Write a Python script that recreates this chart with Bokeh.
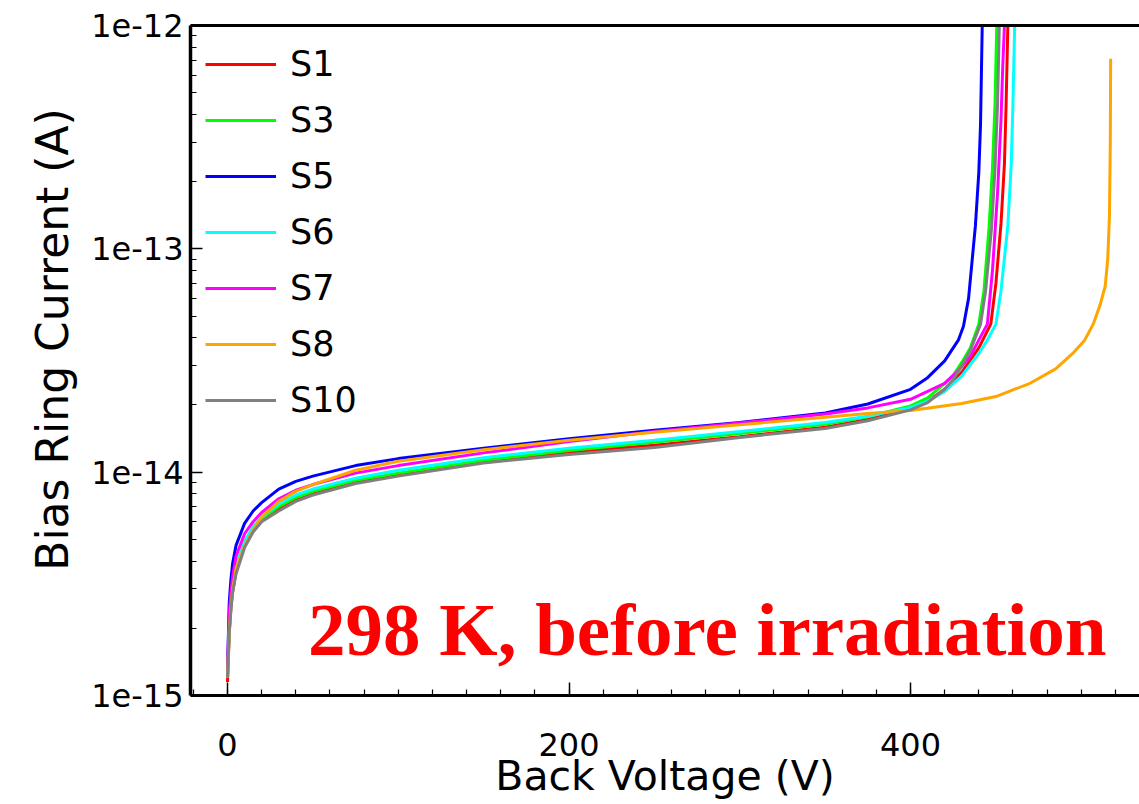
from bokeh.plotting import figure
from bokeh.models import (Range1d, LinearAxis, SingleIntervalTicker, LogTicker, FixedTicker,
                          CustomJSTickFormatter, Label, Legend, LegendItem)
from bokeh.embed import file_html
from bokeh.resources import INLINE

# ---------------- data ----------------
series_names = ["S1", "S3", "S5", "S6", "S7", "S8", "S10"]
series_colors = ["#ff0000", "#00ff00", "#0000ff", "#00ffff", "#ff00ff", "#ffa500", "#808080"]

V_S1 = [0, 1, 2, 3, 5, 10, 15, 20, 30, 40, 50, 75, 100, 150, 200, 250, 300, 350, 375, 400,
        410, 420, 430, 440, 447, 450, 453, 455, 456, 457]
I_S1 = [1.15e-15, 1.9e-15, 2.5e-15, 2.9e-15, 3.6e-15, 4.7e-15, 5.5e-15, 6.1e-15, 6.9e-15, 7.5e-15,
        8.0e-15, 9.0e-15, 9.8e-15, 1.12e-14, 1.23e-14, 1.32e-14, 1.44e-14, 1.59e-14, 1.72e-14, 1.92e-14,
        2.08e-14, 2.35e-14, 2.8e-14, 3.6e-14, 4.6e-14, 7e-14, 1.3e-13, 2.4e-13, 4.5e-13, 1e-12]

V_S3 = [0, 1, 2, 3, 5, 10, 15, 20, 30, 40, 50, 75, 100, 150, 200, 250, 300, 350, 375, 400,
        410, 420, 425, 430, 435, 440, 443, 446, 448, 449.5, 450.5]
I_S3 = [1.2e-15, 2.0e-15, 2.6e-15, 3.0e-15, 3.7e-15, 4.8e-15, 5.6e-15, 6.2e-15, 7.0e-15, 7.7e-15,
        8.2e-15, 9.2e-15, 9.9e-15, 1.13e-14, 1.25e-14, 1.36e-14, 1.49e-14, 1.64e-14, 1.77e-14, 1.98e-14,
        2.15e-14, 2.5e-14, 2.71e-14, 3.1e-14, 3.6e-14, 4.6e-14, 6.5e-14, 1.25e-13, 2.3e-13, 4.5e-13, 1e-12]

V_S5 = [0, 1, 2, 3, 5, 10, 15, 20, 30, 40, 50, 75, 100, 150, 200, 250, 300, 350, 375, 400,
        410, 420, 428, 431, 434, 438, 440, 441, 442]
I_S5 = [1.3e-15, 2.6e-15, 3.3e-15, 3.9e-15, 4.7e-15, 5.9e-15, 6.7e-15, 7.3e-15, 8.4e-15, 9.1e-15,
        9.6e-15, 1.07e-14, 1.15e-14, 1.28e-14, 1.41e-14, 1.54e-14, 1.67e-14, 1.84e-14, 2.02e-14, 2.35e-14,
        2.65e-14, 3.15e-14, 3.9e-14, 4.5e-14, 6.0e-14, 1.27e-13, 2.2e-13, 3.6e-13, 1e-12]

V_S6 = [0, 1, 2, 3, 5, 10, 15, 20, 30, 40, 50, 75, 100, 150, 200, 250, 300, 350, 375, 400,
        410, 420, 430, 440, 445, 450, 453, 457, 459, 460, 461]
I_S6 = [1.2e-15, 2.0e-15, 2.6e-15, 3.0e-15, 3.8e-15, 4.9e-15, 5.7e-15, 6.3e-15, 7.2e-15, 7.9e-15,
        8.4e-15, 9.4e-15, 1.02e-14, 1.16e-14, 1.28e-14, 1.39e-14, 1.52e-14, 1.67e-14, 1.78e-14, 1.95e-14,
        2.08e-14, 2.3e-14, 2.7e-14, 3.4e-14, 3.9e-14, 4.6e-14, 6.5e-14, 1.27e-13, 2.4e-13, 4.5e-13, 1e-12]

V_S7 = [0, 1, 2, 3, 5, 10, 15, 20, 30, 40, 50, 75, 100, 150, 200, 250, 300, 350, 375, 400,
        410, 420, 428, 435, 440, 445, 448, 451, 453, 454, 455]
I_S7 = [1.3e-15, 2.3e-15, 2.9e-15, 3.4e-15, 4.2e-15, 5.3e-15, 6.0e-15, 6.6e-15, 7.6e-15, 8.3e-15,
        8.8e-15, 9.9e-15, 1.07e-14, 1.22e-14, 1.37e-14, 1.52e-14, 1.66e-14, 1.82e-14, 1.94e-14, 2.12e-14,
        2.3e-14, 2.5e-14, 2.85e-14, 3.3e-14, 3.9e-14, 4.6e-14, 8e-14, 1.8e-13, 3.8e-13, 6.5e-13, 1e-12]

V_S8 = [0, 1, 2, 3, 5, 10, 15, 20, 30, 40, 50, 75, 100, 150, 200, 250, 300, 350, 375, 400,
        430, 450, 470, 485, 495, 502, 507, 511, 514, 515.5, 516.5, 517, 517.2]
I_S8 = [1.2e-15, 1.9e-15, 2.5e-15, 3.0e-15, 3.7e-15, 4.7e-15, 5.5e-15, 6.3e-15, 7.4e-15, 8.2e-15,
        8.8e-15, 1.02e-14, 1.12e-14, 1.26e-14, 1.39e-14, 1.51e-14, 1.63e-14, 1.76e-14, 1.83e-14, 1.89e-14,
        2.03e-14, 2.18e-14, 2.5e-14, 2.9e-14, 3.4e-14, 3.9e-14, 4.6e-14, 5.6e-14, 6.8e-14, 9e-14,
        1.4e-13, 3e-13, 7.1e-13]

V_S10 = [0, 1, 2, 3, 5, 10, 15, 20, 30, 40, 50, 75, 100, 150, 200, 250, 300, 350, 375, 400,
         410, 420, 425, 430, 435, 441, 444, 447.5, 449.5, 451, 452]
I_S10 = [1.2e-15, 1.9e-15, 2.4e-15, 2.9e-15, 3.5e-15, 4.6e-15, 5.4e-15, 6.0e-15, 6.7e-15, 7.4e-15,
         7.9e-15, 8.9e-15, 9.6e-15, 1.10e-14, 1.20e-14, 1.29e-14, 1.43e-14, 1.57e-14, 1.70e-14, 1.90e-14,
         2.05e-14, 2.35e-14, 2.6e-14, 3.0e-14, 3.5e-14, 4.6e-14, 6.5e-14, 1.25e-13, 2.3e-13, 4.5e-13, 1e-12]

series_V = [V_S1, V_S3, V_S5, V_S6, V_S7, V_S8, V_S10]
series_I = [I_S1, I_S3, I_S5, I_S6, I_S7, I_S8, I_S10]

x_title = "Back Voltage (V)"
y_title = "Bias Ring Current (A)"
note_text = "298 K, before irradiation"

# ---------------- figure ----------------
p = figure(width=1139, height=804, output_backend="svg", toolbar_location=None,
           y_axis_type="log",
           x_range=Range1d(-21.67, 534.1), y_range=Range1d(1e-15, 1e-12),
           min_border_left=190, min_border_right=0, min_border_top=25, min_border_bottom=109)
p.outline_line_color = None
p.xgrid.visible = False
p.ygrid.visible = False
p.background_fill_color = "white"
p.border_fill_color = "white"

tick_font = "DejaVu Sans"

xa = p.xaxis[0]
xa.ticker = SingleIntervalTicker(interval=200, num_minor_ticks=10)
xa.axis_line_width = 3
xa.axis_line_color = "black"
xa.major_tick_in = 13
xa.major_tick_out = 0
xa.minor_tick_in = 6
xa.minor_tick_out = 0
xa.major_tick_line_width = 1.5
xa.minor_tick_line_width = 1.2
xa.major_label_text_font = tick_font
xa.major_label_text_font_size = "32px"
xa.major_label_text_color = "black"
xa.major_label_standoff = 37
xa.axis_label = x_title
xa.axis_label_text_font = "DejaVu Sans"
xa.axis_label_text_font_size = "41px"
xa.axis_label_text_font_style = "normal"
xa.axis_label_text_color = "black"
xa.axis_label_standoff = -7

ya = p.yaxis[0]
ya.ticker = LogTicker(num_minor_ticks=10)
ya.formatter = CustomJSTickFormatter(code="return tick.toExponential(0);")
ya.axis_line_width = 3.5
ya.axis_line_color = "black"
ya.major_tick_in = 12
ya.major_tick_out = 0
ya.minor_tick_in = 6
ya.minor_tick_out = 0
ya.major_tick_line_width = 1.5
ya.minor_tick_line_width = 1.2
ya.major_label_text_font = tick_font
ya.major_label_text_font_size = "32px"
ya.major_label_text_color = "black"
ya.major_label_standoff = 7
# leading non-breaking spaces lift the rotated title slightly above the frame centre
ya.axis_label = "\u00a0\u00a0\u00a0" + y_title
ya.axis_label_text_font = "DejaVu Sans"
ya.axis_label_text_font_size = "44px"
ya.axis_label_text_font_style = "normal"
ya.axis_label_text_color = "black"
ya.axis_label_standoff = 10

# top border line
top_axis = LinearAxis(axis_line_width=3, axis_line_color="black", ticker=FixedTicker(ticks=[]),
                      major_tick_line_color=None, minor_tick_line_color=None)
p.add_layout(top_axis, "above")

# ---------------- curves ----------------
items = []
for name, col, vv, ii in zip(series_names, series_colors, series_V, series_I):
    r = p.line(vv, ii, line_color=col, line_width=3)
    items.append(LegendItem(label=name, renderers=[r]))

legend = Legend(items=items, location="top_left", border_line_color=None,
                background_fill_alpha=0, label_text_font="DejaVu Sans",
                label_text_font_size="35px", label_text_color="black",
                glyph_width=71, glyph_height=48, label_height=48, spacing=8,
                padding=14, margin=15, label_standoff=14)
p.add_layout(legend)

# ---------------- annotation ----------------
note = Label(x=281, y=1.97e-15, text=note_text, text_font="Liberation Serif",
             text_font_style="bold", text_font_size="75px", text_color="#ff0000",
             text_align="center", text_baseline="alphabetic")
p.add_layout(note)

open("out.html", "w").write(file_html(p, INLINE))
